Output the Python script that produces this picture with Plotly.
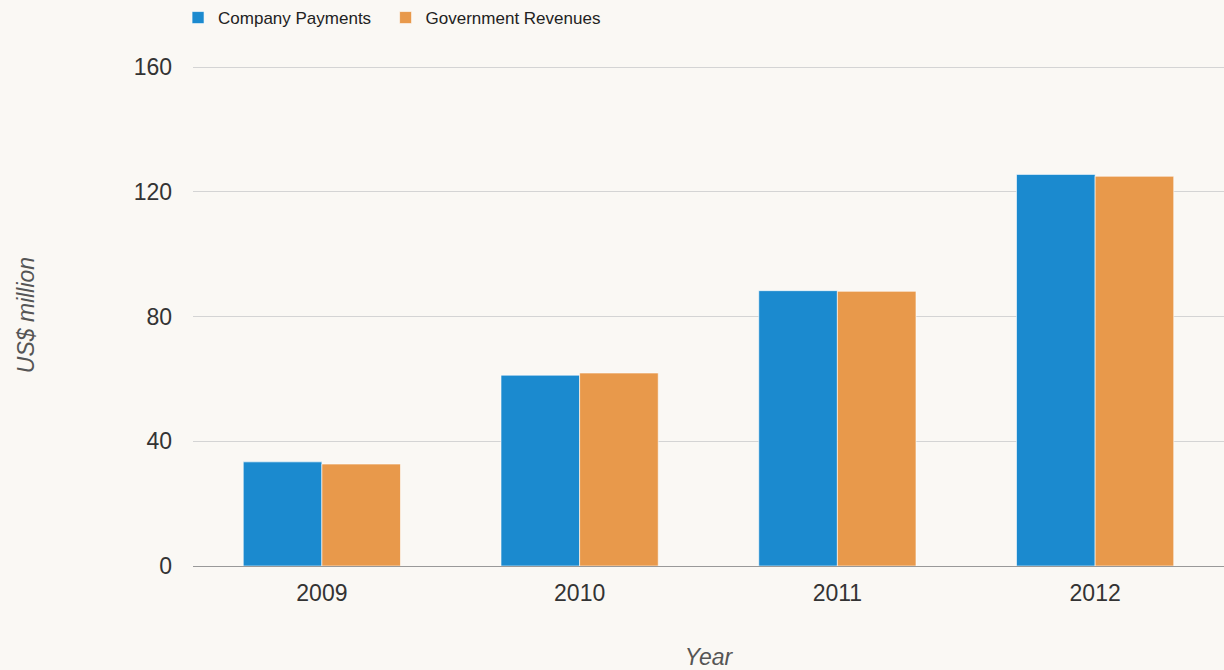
import plotly.graph_objects as go

years = ["2009", "2010", "2011", "2012"]
company_payments = [33.4, 61.2, 88.3, 125.6]
government_revenues = [32.7, 61.9, 88.1, 125.0]
series_names = ["Company Payments", "Government Revenues"]

fig = go.Figure()
fig.add_trace(go.Bar(name=series_names[0] + "\u00a0\u00a0", x=years, y=company_payments,
                     marker=dict(color="#1B8ACF", line=dict(color="rgba(255,255,255,0.6)", width=1))))
fig.add_trace(go.Bar(name=series_names[1], x=years, y=government_revenues,
                     marker=dict(color="#E8994B", line=dict(color="rgba(255,255,255,0.6)", width=1))))

bg = "#FAF8F4"
fig.update_layout(
    width=1224, height=670,
    paper_bgcolor=bg, plot_bgcolor=bg,
    margin=dict(l=193, r=0, t=64, b=104),
    barmode="group", bargap=0.39, bargroupgap=0,
    font=dict(family="Liberation Sans, Arial, sans-serif", color="#444", size=22),
    legend=dict(orientation="h", x=-0.0145, xanchor="left", y=1.0, yanchor="top",
                yref="container", font=dict(size=17, color="#222"),
                traceorder="normal", bgcolor="rgba(0,0,0,0)"),
    showlegend=True,
    xaxis=dict(showgrid=False, showline=True, linecolor="#999", linewidth=1,
               ticks="", tickfont=dict(size=23, color="#333"), ticklabelstandoff=6,
               title=dict(text="<i>Year</i>", font=dict(size=23, color="#555"), standoff=48)),
    yaxis=dict(range=[0, 161], tickvals=[0, 40, 80, 120, 160], showgrid=True,
               gridcolor="#D4D4D4", gridwidth=1, zeroline=True, zerolinecolor="#999",
               zerolinewidth=1, tickfont=dict(size=23, color="#333"), ticklabelstandoff=20,
               title=dict(text="<i>US$ million</i>", font=dict(size=23, color="#555"), standoff=92)),
)
fig.write_html("out.html")
